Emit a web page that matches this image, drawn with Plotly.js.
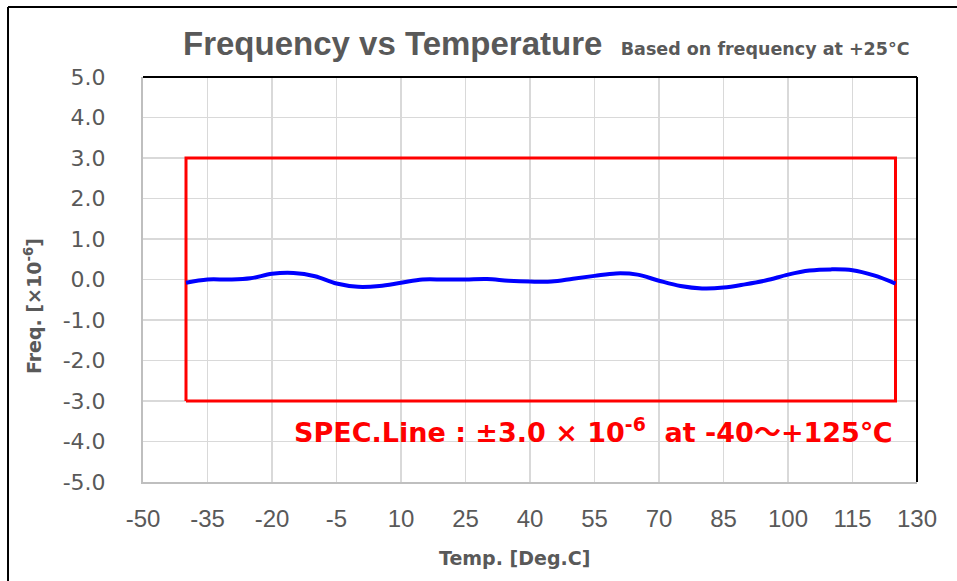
<!DOCTYPE html>
<html><head><meta charset="utf-8">
<script src="https://cdn.plot.ly/plotly-3.0.1.min.js"></script>
<style>html,body{margin:0;padding:0;background:#fff}#chart{width:957px;height:581px}</style>
</head><body><div id="chart"></div>
<script>
// Measured curve: frequency deviation (x10^-6) vs temperature (deg C)
const temps = [-40,-35,-30,-25,-20,-15,-10,-5,0,5,10,15,20,25,30,35,40,45,50,55,60,65,70,75,80,85,90,95,100,105,110,115,120,125];
const freqDev = [-0.08,0.0,0.0,0.03,0.14,0.16,0.08,-0.10,-0.18,-0.16,-0.08,0.0,0.0,0.0,0.01,-0.03,-0.05,-0.05,0.02,0.09,0.15,0.12,-0.03,-0.16,-0.22,-0.20,-0.12,-0.02,0.12,0.22,0.25,0.23,0.10,-0.10];
// Spec window: ±3.0 x10^-6 at -40 ~ +125 C
const specTemps = [-40, -40, 125, 125, -40];
const specLimits = [-3, 3, 3, -3, -3];
const xTicks = [-50,-35,-20,-5,10,25,40,55,70,85,100,115,130];
const xTickLabels = ["-50","-35","-20","-5","10","25","40","55","70","85","100","115","130"];
const yTicks = [-5,-4,-3,-2,-1,0,1,2,3,4,5];
const yTickLabels = ["-5.0","-4.0","-3.0","-2.0","-1.0","0.0","1.0","2.0","3.0","4.0","5.0"];

const traces = [
  {x: specTemps, y: specLimits, type:'scatter', mode:'lines', line:{color:'#ff0000', width:3}, hoverinfo:'skip', showlegend:false},
  {x: temps, y: freqDev, type:'scatter', mode:'lines', line:{color:'#0000ff', width:4, shape:'spline', smoothing:1}, showlegend:false}
];

const grey = '#595959';
const layout = {
  width:957, height:581,
  margin:{l:143, r:40, t:77, b:99},
  paper_bgcolor:'#ffffff', plot_bgcolor:'#ffffff',
  showlegend:false,
  title:{
    text:'<b>Frequency vs Temperature</b>  <span style="font-family:\'DejaVu Sans\';font-size:17.5px"><b>Based on frequency at +25°C</b></span>',
    font:{family:'"Liberation Sans", Arial, sans-serif', size:33, color:grey},
    xref:'paper', x:0.0517, xanchor:'left',
    yref:'container', y:0.926, yanchor:'middle'
  },
  xaxis:{
    range:[-50,130], tickmode:'array', tickvals:xTicks, ticktext:xTickLabels,
    showgrid:true, gridcolor:'#d9d9d9', gridwidth:1.5,
    zeroline:false, showline:true, linecolor:'#bfbfbf', linewidth:2,
    ticks:'', ticklabelstandoff:14,
    tickfont:{family:'"Liberation Sans", Arial, sans-serif', size:24, color:grey},
    fixedrange:true
  },
  yaxis:{
    range:[-5,5], tickmode:'array', tickvals:yTicks, ticktext:yTickLabels,
    showgrid:true, gridcolor:'#d9d9d9', gridwidth:1.5,
    zeroline:false, showline:true, linecolor:'#bfbfbf', linewidth:2,
    ticks:'', ticklabelstandoff:31,
    tickfont:{family:'"DejaVu Sans", Verdana, sans-serif', size:22, color:grey},
    fixedrange:true
  },
  shapes:[
    {type:'line', xref:'paper', yref:'paper', x0:0, x1:1, y0:1, y1:1, line:{color:'#000000', width:2}},
    {type:'line', xref:'paper', yref:'paper', x0:1, x1:1, y0:0, y1:1, line:{color:'#000000', width:2}},
    {type:'line', xref:'paper', yref:'paper', x0:-0.1744, x1:1.06, y0:1.1728, y1:1.1728, line:{color:'#000000', width:2}},
    {type:'line', xref:'paper', yref:'paper', x0:-0.1744, x1:-0.1744, y0:-0.25, y1:1.1728, line:{color:'#000000', width:2}}
  ],
  annotations:[
    {text:'<b>Freq. [×10<sup>-6</sup>]</b>', xref:'paper', yref:'paper', x:-0.142, y:0.4346,
     xanchor:'center', yanchor:'middle', showarrow:false, textangle:-90,
     font:{family:'"DejaVu Sans", Verdana, sans-serif', size:19, color:grey}},
    {text:'<b>Temp. [Deg.C]</b>', xref:'paper', yref:'paper', x:0.4806, y:-0.1877,
     xanchor:'center', yanchor:'middle', showarrow:false,
     font:{family:'"DejaVu Sans", Verdana, sans-serif', size:19, color:grey}},
    {text:'<b>SPEC.Line : ±3.0 × 10<sup>-6</sup>  at -40～+125℃</b>', xref:'paper', yref:'paper', x:0.5814, y:0.128,
     xanchor:'center', yanchor:'middle', showarrow:false,
     font:{family:'"DejaVu Sans", "Noto Sans CJK JP", sans-serif', size:27, color:'#ff0000'}}
  ]
};
Plotly.newPlot('chart', traces, layout, {displayModeBar:false, staticPlot:true});
</script></body></html>
